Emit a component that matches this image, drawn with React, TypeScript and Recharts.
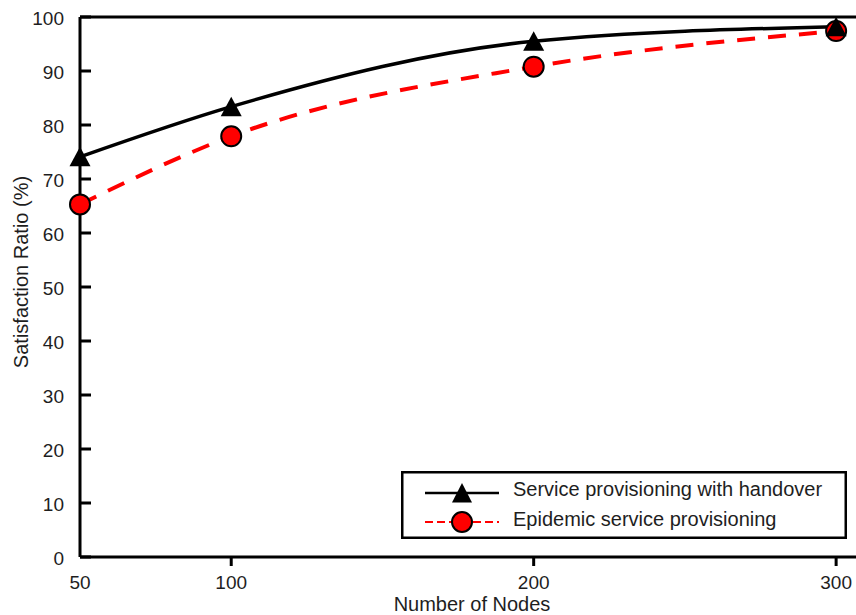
import React from 'react';
import { LineChart, Line, XAxis, YAxis, ReferenceLine, Legend, Label } from 'recharts';

// values
const nodeCounts = [50, 100, 200, 300];
const handoverRatio = [74.1, 83.4, 95.5, 98.2];
const epidemicRatio = [65.3, 77.9, 90.8, 97.4];
const xTicks = [50, 100, 200, 300];
const yTicks = [0, 10, 20, 30, 40, 50, 60, 70, 80, 90, 100];
const seriesNames = ['Service provisioning with handover', 'Epidemic service provisioning'];

const data = nodeCounts.map((n, i) => ({
  nodes: n,
  handover: handoverRatio[i],
  epidemic: epidemicRatio[i],
}));

const FONT = '"Liberation Sans", Arial, sans-serif';
const TEXT = '#1e1e1e';

const Triangle = (props: any) => {
  const { cx, cy } = props;
  if (cx == null || cy == null) return <g />;
  return (
    <polygon
      points={`${cx},${cy - 10} ${cx + 10.5},${cy + 9.5} ${cx - 10.5},${cy + 9.5}`}
      fill="#000"
    />
  );
};

const RedDot = (props: any) => {
  const { cx, cy } = props;
  if (cx == null || cy == null) return <g />;
  return <circle cx={cx} cy={cy} r={10} fill="#ff0000" stroke="#000" strokeWidth={2} />;
};

const YTick = (props: any) => {
  const { x, y, payload } = props;
  return (
    <g>
      <line x1={x + 16} x2={x + 27} y1={y} y2={y} stroke="#000" strokeWidth={3} />
      <text x={x} y={y + 8} textAnchor="end" fontSize={19} fontFamily={FONT} fill={TEXT}>
        {payload.value}
      </text>
    </g>
  );
};

const XTick = (props: any) => {
  const { x, y, payload } = props;
  return (
    <g>
      {payload.value !== 50 && (
        <line x1={x} x2={x} y1={y} y2={y + 9} stroke="#000" strokeWidth={3} />
      )}
      <text x={x} y={y + 32} textAnchor="middle" fontSize={19} fontFamily={FONT} fill={TEXT}>
        {payload.value}
      </text>
    </g>
  );
};

const LegendBox = () => (
  <svg width={446} height={68} style={{ display: 'block' }}>
    <rect x={1.25} y={1.25} width={443.5} height={65.5} fill="#fff" stroke="#000" strokeWidth={2.5} />
    <line x1={24} x2={98} y1={22} y2={22} stroke="#000" strokeWidth={2.5} />
    <polygon points="61,12 71,31.5 51,31.5" fill="#000" />
    <text x={112} y={25} fontSize={20} fontFamily={FONT} fill={TEXT}>
      {seriesNames[0]}
    </text>
    <line x1={24} x2={98} y1={51} y2={51} stroke="#ff0000" strokeWidth={2} strokeDasharray="8 4" />
    <circle cx={61} cy={51} r={10} fill="#ff0000" stroke="#000" strokeWidth={2} />
    <text x={112} y={55} fontSize={20} fontFamily={FONT} fill={TEXT}>
      {seriesNames[1]}
    </text>
  </svg>
);

export default function App() {
  return (
    <div style={{ position: 'absolute', left: 0, top: 0, width: 856, height: 615, overflow: 'hidden', background: '#fff' }}>
      <LineChart width={880} height={615} data={data} margin={{ top: 17, right: 10, left: 0, bottom: 0 }}>
        <XAxis
          dataKey="nodes"
          type="number"
          domain={[50, 311.2]}
          ticks={xTicks}
          interval={0}
          height={58}
          tickSize={0}
          tickMargin={0}
          tickLine={false}
          axisLine={{ stroke: '#000', strokeWidth: 3 }}
          tick={XTick}
        >
          <Label
            content={() => (
              <text x={472} y={611} textAnchor="middle" fontSize={20} fontFamily={FONT} fill={TEXT}>
                Number of Nodes
              </text>
            )}
          />
        </XAxis>
        <YAxis
          type="number"
          domain={[0, 100]}
          ticks={yTicks}
          interval={0}
          width={80}
          tickSize={0}
          tickMargin={16}
          tickLine={false}
          axisLine={{ stroke: '#000', strokeWidth: 3 }}
          tick={YTick}
        >
          <Label
            content={() => (
              <text
                x={28}
                y={272}
                transform="rotate(-90 28 272)"
                textAnchor="middle"
                fontSize={20}
                fontFamily={FONT}
                fill={TEXT}
              >
                Satisfaction Ratio (%)
              </text>
            )}
          />
        </YAxis>
        <ReferenceLine y={100} stroke="#000" strokeWidth={3} />
        <Line
          type="monotone"
          dataKey="epidemic"
          stroke="#ff0000"
          strokeWidth={4}
          strokeDasharray="18 13"
          dot={RedDot}
          activeDot={false}
          isAnimationActive={false}
        />
        <Line
          type="monotone"
          dataKey="handover"
          stroke="#000"
          strokeWidth={3.5}
          dot={Triangle}
          activeDot={false}
          isAnimationActive={false}
        />
        <Legend
          layout="horizontal"
          verticalAlign="middle"
          align="center"
          content={LegendBox}
          wrapperStyle={{ left: 401, top: 471, width: 446, height: 68 }}
        />
      </LineChart>
    </div>
  );
}
